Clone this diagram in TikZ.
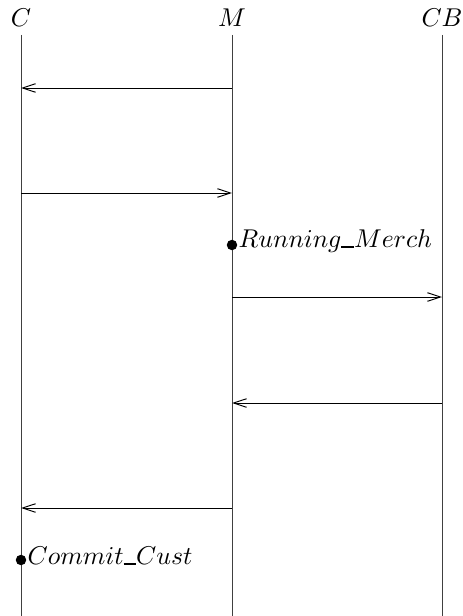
\documentclass[tikz,border=0pt]{standalone}
\usepackage{graphicx}
\usetikzlibrary{arrows.meta}
\newcommand{\usbar}{\rule[-0.2pt]{4.9pt}{0.7pt}}
\newcommand{\bigtxt}[1]{\scalebox{1.08}{#1}}
\begin{document}
\begin{tikzpicture}[x=0.42pt,y=-0.42pt,
  lifeline/.style={line width=0.4pt,draw=black!75},
  msg/.style={line width=0.4pt,-{Straight Barb[length=5.5pt,width=3.6pt]}},
  lbl/.style={inner sep=0pt,anchor=base},
  evdot/.style={circle,fill=black,inner sep=0pt,minimum size=4.4pt},
  evlbl/.style={inner sep=0pt,anchor=west}]
\useasboundingbox (0,0) rectangle (463,616);
% lifeline heads
\node[lbl] (C)  at (21,27)  {\bigtxt{$C$}};
\node[lbl] (M)  at (232,27) {\bigtxt{$M$}};
\node[lbl] (CB) at (442,27) {\bigtxt{$CB$}};
\coordinate (Ct) at (21,35);   \coordinate (Cb) at (21,616);
\coordinate (Mt) at (232,35);  \coordinate (Mb) at (232,616);
\coordinate (CBt) at (442,35); \coordinate (CBb) at (442,616);
\draw[lifeline] (Ct) -- (Cb);
\draw[lifeline] (Mt) -- (Mb);
\draw[lifeline] (CBt) -- (CBb);
% message points
\coordinate (c1) at (21,88);   \coordinate (m1) at (232,88);
\coordinate (c2) at (21,193);  \coordinate (m2) at (232,193);
\coordinate (m3) at (232,297); \coordinate (cb3) at (442,297);
\coordinate (m4) at (232,403); \coordinate (cb4) at (442,403);
\coordinate (c5) at (21,508);  \coordinate (m5) at (232,508);
\draw[msg] (m1) -- (c1);
\draw[msg] (c2) -- (m2);
\draw[msg] (m3) -- (cb3);
\draw[msg] (cb4) -- (m4);
\draw[msg] (m5) -- (c5);
% events
\node[evdot] (e1) at (232,245) {};
\node[evlbl] (e1l) at ([xshift=0.2pt,yshift=1.8pt]e1.east) {\bigtxt{$Running\usbar Merch$}};
\node[evdot] (e2) at (21,560) {};
\node[evlbl] (e2l) at ([xshift=0.2pt,yshift=1.8pt]e2.east) {\bigtxt{$Commit\usbar Cust$}};
\end{tikzpicture}
\end{document}
